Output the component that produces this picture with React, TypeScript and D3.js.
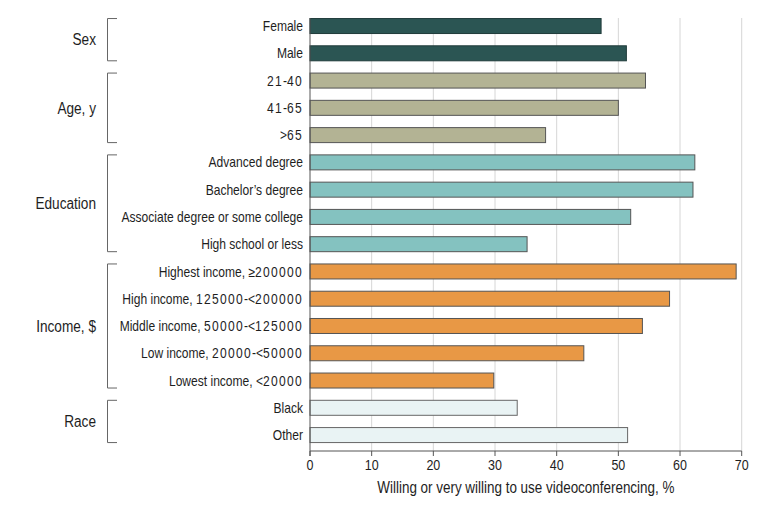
import React from "react";
import * as d3 from "d3";

const groups = ["Sex", "Age, y", "Education", "Income, $", "Race"];
const groupColors = ["#2b5553", "#b3b394", "#84c2c0", "#e89845", "#e9f3f4"];
const groupStrokes = ["#1f3b3a", "#555555", "#555555", "#555555", "#666666"];
const categories = [
  "Female", "Male",
  "21-40", "41-65", ">65",
  "Advanced degree", "Bachelor’s degree", "Associate degree or some college", "High school or less",
  "Highest income, ≥200000", "High income, 125000-<200000", "Middle income, 50000-<125000", "Low income, 20000-<50000", "Lowest income, <20000",
  "Black", "Other",
];
const categoryGroup = [0, 0, 1, 1, 1, 2, 2, 2, 2, 3, 3, 3, 3, 3, 4, 4];
const values = [47.2, 51.3, 54.4, 50.0, 38.2, 62.4, 62.1, 52.0, 35.2, 69.1, 58.3, 53.9, 44.4, 29.8, 33.6, 51.5];
const xTicks = [0, 10, 20, 30, 40, 50, 60, 70];
const xTitle = "Willing or very willing to use videoconferencing, %";

const W = 780;
const H = 506;
const FONT = "'Liberation Sans', Arial, sans-serif";
const SX = 0.862;

function withDigits(s: string) {
  const parts = s.split(/(\d+)/);
  return parts.map((p, i) =>
    /^\d+$/.test(p) ? (
      <tspan key={i} letterSpacing={1.5}>
        {p}
      </tspan>
    ) : (
      p
    )
  );
}

function T(props: { x: number; y: number; size: number; anchor: string; dy?: string; children: React.ReactNode }) {
  return (
    <text
      transform={`translate(${props.x},${props.y}) scale(${SX},1)`}
      dy={props.dy}
      textAnchor={props.anchor as any}
      fontSize={props.size}
      fill="#1e1e1e"
    >
      {props.children}
    </text>
  );
}

export default function App() {
  const x = d3.scaleLinear().domain([0, 70]).range([310, 741.7]);
  const y = d3
    .scaleBand<number>()
    .domain(d3.range(categories.length))
    .range([12.4, 448.7])
    .paddingInner(0.45)
    .paddingOuter(0.225);
  const bw = y.bandwidth();
  const plotTop = 18;
  const axisY = 451;

  const groupRanges = groups.map((g, gi) => {
    const idx = categoryGroup.map((c, i) => (c === gi ? i : -1)).filter((i) => i >= 0);
    const top = y(idx[0])!;
    const bottom = y(idx[idx.length - 1])! + bw;
    return { g, top, bottom };
  });

  return (
    <svg
      width={W}
      height={H}
      style={{ position: "absolute", left: 0, top: 0, background: "#fff" }}
      fontFamily={FONT}
    >
      <rect x={0} y={0} width={W} height={H} fill="#fff" />
      {xTicks.filter((t) => t > 0).map((t) => (
        <line key={"g" + t} x1={x(t)} x2={x(t)} y1={plotTop} y2={axisY} stroke="#d6d6d6" strokeWidth={1} />
      ))}
      {values.map((v, i) => (
        <rect
          key={"b" + i}
          x={x(0)}
          y={y(i)!}
          width={x(v) - x(0)}
          height={bw}
          fill={groupColors[categoryGroup[i]]}
          stroke={groupStrokes[categoryGroup[i]]}
          strokeWidth={1}
        />
      ))}
      <line x1={x(0)} x2={x(0)} y1={plotTop} y2={axisY + 5} stroke="#555" strokeWidth={1} />
      <line x1={x(0)} x2={x(70)} y1={axisY} y2={axisY} stroke="#555" strokeWidth={1} />
      {xTicks.map((t) => (
        <g key={"t" + t}>
          <line x1={x(t)} x2={x(t)} y1={axisY} y2={axisY + 5} stroke="#555" strokeWidth={1} />
          <T x={x(t)} y={470} anchor="middle" size={14.5}>
            {String(t)}
          </T>
        </g>
      ))}
      <T x={(x(0) + x(70)) / 2} y={493} anchor="middle" size={15.6}>
        {xTitle}
      </T>
      {categories.map((c, i) => (
        <T key={"c" + i} x={303} y={y(i)! + bw / 2} dy="0.36em" anchor="end" size={14}>
          {withDigits(c)}
        </T>
      ))}
      {groupRanges.map((r, i) => (
        <g key={"gr" + i}>
          <path
            d={`M117,${r.top}H107.5V${r.bottom}H117`}
            fill="none"
            stroke="#666"
            strokeWidth={1}
          />
          <T x={96} y={(r.top + r.bottom) / 2} dy="0.36em" anchor="end" size={15.8}>
            {r.g}
          </T>
        </g>
      ))}
    </svg>
  );
}
